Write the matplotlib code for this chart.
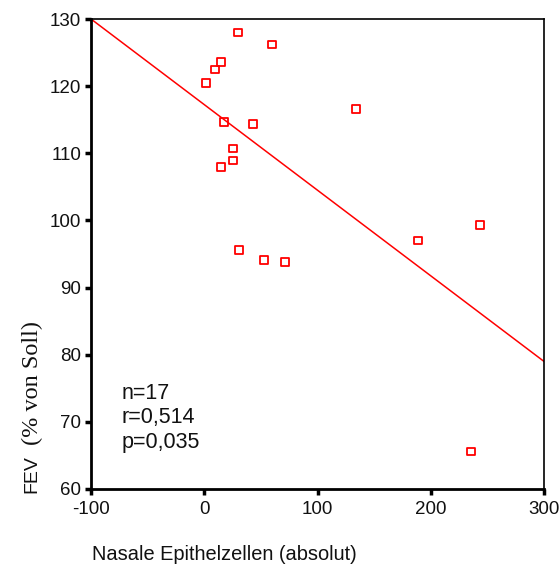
import matplotlib
matplotlib.use("Agg")
import matplotlib.pyplot as plt
import numpy as np

# Data
x_cells = [1.5, 9.5, 14.8, 29.8, 59.8, 17.4, 43.0, 25.4, 25.4, 14.8,
           30.7, 52.8, 71.3, 134.0, 188.7, 243.5, 235.5]
fev = [120.5, 122.5, 123.6, 128.0, 126.2, 114.7, 114.4, 110.7, 108.9, 108.0,
       95.6, 94.1, 93.8, 116.6, 97.0, 99.3, 65.6]
fit_intercept = 117.25
fit_slope = -0.1275
x_ticks = [-100, 0, 100, 200, 300]
y_ticks = [60, 70, 80, 90, 100, 110, 120, 130]
stats_lines = ["n=17", "r=0,514", "p=0,035"]

plt.rcParams['font.family'] = ['Liberation Sans', 'DejaVu Sans']
plt.rcParams['axes.unicode_minus'] = False

fig = plt.figure(figsize=(5.59, 5.70), dpi=100)
ax = fig.add_axes([91/559, 1-489/570, (544-91)/559, (489-19)/570])

ax.scatter(x_cells, fev, marker='s', s=30, facecolors='none',
           edgecolors='red', linewidths=1.3, zorder=3)
xl = np.array([-100, 300])
ax.plot(xl, fit_intercept + fit_slope * xl, color='red', lw=1.1, zorder=2)

ax.set_xlim(-100, 300)
ax.set_ylim(60, 130)
ax.set_xticks(x_ticks)
ax.set_yticks(y_ticks)
ax.tick_params(axis='both', direction='out', length=4, width=2.5,
               labelsize=13.5, color='black', labelcolor='#111111')
ax.tick_params(axis='x', pad=5)
ax.tick_params(axis='y', pad=3)
for s in ['left', 'bottom']:
    ax.spines[s].set_linewidth(2)
for s in ['top', 'right']:
    ax.spines[s].set_linewidth(1.2)

ax.text(-73, 70.6, "\n".join(stats_lines), fontsize=15.5, va='center',
        ha='left', linespacing=1.2, color='#111111')

fig.text(92/559, 1-555/570, "Nasale Epithelzellen (absolut)", fontsize=14.4,
         ha='left', va='center', color='#111111')
fig.text(32/559, 1-474/570, "FEV", fontsize=14, rotation=90,
         ha='center', va='center', color='#111111')
fig.text(32/559, 1-383/570, "(% von Soll)", fontsize=17.5, rotation=90,
         ha='center', va='center', family='Liberation Serif', color='#111111')

fig.savefig("out.png", dpi=100)
